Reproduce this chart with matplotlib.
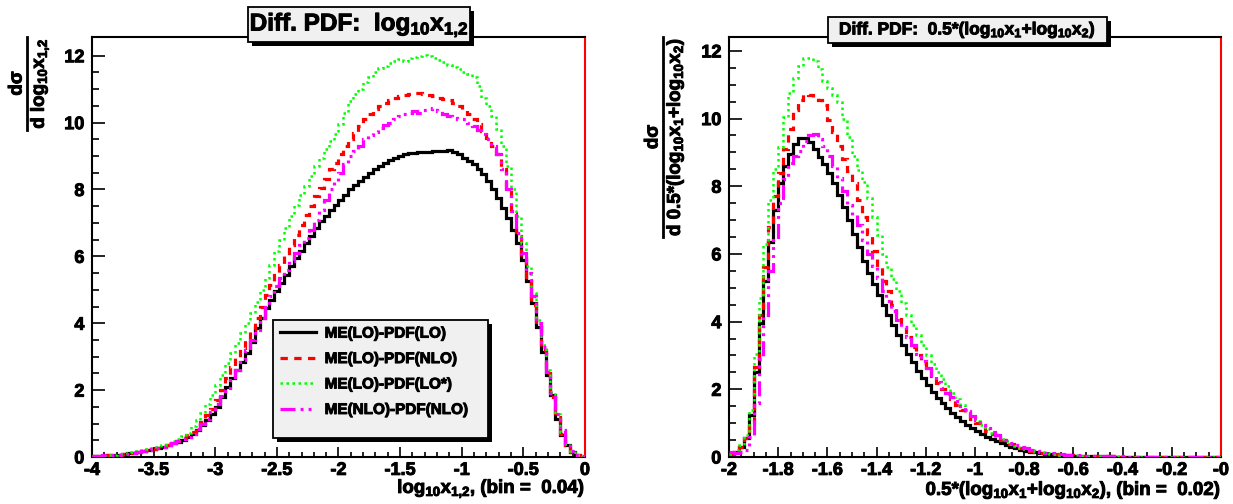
import numpy as np
import matplotlib
matplotlib.use('Agg')
import matplotlib.pyplot as plt
from matplotlib.patches import Rectangle
from matplotlib.lines import Line2D
import matplotlib.patheffects as pe

plt.rcParams['font.family'] = ['Liberation Sans', 'DejaVu Sans']
plt.rcParams['font.weight'] = 'bold'
plt.rcParams['mathtext.fontset'] = 'custom'
plt.rcParams['mathtext.rm'] = 'Liberation Sans:bold'
plt.rcParams['mathtext.bf'] = 'Liberation Sans:bold'
plt.rcParams['mathtext.it'] = 'Liberation Sans:bold'
plt.rcParams['mathtext.default'] = 'regular'

W, H = 1233, 504
HEAVY = [pe.withStroke(linewidth=0.7, foreground='black')]

# ---------------- data ----------------
left_range = (-4.0, 0.0)
left_nbins = 100
right_range = (-2.0, 0.0)
right_nbins = 100

series_labels = ['ME(LO)-PDF(LO)', 'ME(LO)-PDF(NLO)', 'ME(LO)-PDF(LO*)', 'ME(NLO)-PDF(NLO)']

left_lo_lo = [
    0.02, 0.03, 0.04, 0.05, 0.06, 0.07, 0.09, 0.11, 0.13, 0.15,
    0.17, 0.20, 0.23, 0.27, 0.31, 0.36, 0.41, 0.46, 0.52, 0.60,
    0.70, 0.82, 0.97, 1.12, 1.30, 1.50, 1.80, 2.10, 2.35, 2.60,
    2.85, 3.10, 3.45, 3.85, 4.15, 4.45, 4.70, 4.95, 5.20, 5.45,
    5.70, 5.95, 6.15, 6.40, 6.60, 6.85, 7.05, 7.20, 7.40, 7.55,
    7.70, 7.85, 8.00, 8.12, 8.25, 8.38, 8.50, 8.60, 8.70, 8.80,
    8.88, 8.95, 9.00, 9.05, 9.08, 9.10, 9.12, 9.12, 9.13, 9.14,
    9.14, 9.16, 9.17, 9.12, 9.05, 8.95, 8.85, 8.75, 8.60, 8.45,
    8.25, 8.00, 7.75, 7.45, 7.15, 6.80, 6.40, 5.90, 5.25, 4.60,
    3.90, 3.15, 2.45, 1.85, 1.15, 0.65, 0.35, 0.15, 0.05, 0.01]
left_lo_nlo = [
    0.02, 0.03, 0.04, 0.05, 0.06, 0.07, 0.09, 0.11, 0.13, 0.15,
    0.17, 0.20, 0.24, 0.28, 0.32, 0.37, 0.43, 0.49, 0.56, 0.65,
    0.76, 0.90, 1.06, 1.25, 1.45, 1.70, 2.00, 2.35, 2.70, 3.00,
    3.25, 3.50, 3.80, 4.15, 4.50, 4.85, 5.15, 5.45, 5.75, 6.05,
    6.35, 6.65, 6.95, 7.25, 7.50, 7.80, 8.05, 8.30, 8.60, 8.80,
    9.05, 9.30, 9.50, 9.70, 9.90, 10.10, 10.25, 10.40, 10.50, 10.60,
    10.68, 10.75, 10.80, 10.82, 10.85, 10.90, 10.88, 10.85, 10.82, 10.80,
    10.75, 10.70, 10.67, 10.60, 10.50, 10.38, 10.25, 10.10, 9.95, 9.75,
    9.55, 9.30, 9.05, 8.60, 8.00, 7.30, 6.60, 5.95, 5.30, 4.55,
    3.90, 3.20, 2.50, 1.80, 1.20, 0.70, 0.35, 0.15, 0.05, 0.01]
left_lo_los = [
    0.02, 0.03, 0.04, 0.05, 0.06, 0.08, 0.10, 0.12, 0.14, 0.17,
    0.20, 0.23, 0.27, 0.31, 0.36, 0.42, 0.48, 0.55, 0.63, 0.72,
    0.92, 1.10, 1.32, 1.58, 1.85, 2.15, 2.45, 2.80, 3.10, 3.40,
    3.70, 4.00, 4.30, 4.65, 5.00, 5.35, 5.75, 6.15, 6.50, 6.85,
    7.20, 7.55, 7.85, 8.10, 8.40, 8.70, 8.95, 9.20, 9.45, 9.65,
    9.95, 10.30, 10.65, 10.85, 11.00, 11.20, 11.35, 11.50, 11.62, 11.70,
    11.78, 11.85, 11.90, 11.85, 11.92, 11.95, 12.00, 12.03, 11.98, 11.92,
    11.86, 11.80, 11.72, 11.65, 11.60, 11.52, 11.45, 11.35, 11.10, 10.75,
    10.50, 10.20, 9.80, 9.30, 8.70, 8.00, 7.20, 6.40, 5.70, 4.90,
    4.10, 3.35, 2.60, 1.95, 1.30, 0.75, 0.40, 0.17, 0.06, 0.01]
left_nlo_nlo = [
    0.03, 0.03, 0.05, 0.05, 0.06, 0.07, 0.09, 0.10, 0.13, 0.15,
    0.17, 0.20, 0.23, 0.27, 0.31, 0.36, 0.41, 0.47, 0.53, 0.60,
    0.70, 0.83, 0.98, 1.15, 1.35, 1.58, 1.82, 2.05, 2.30, 2.60,
    2.90, 3.20, 3.50, 3.80, 4.15, 4.50, 4.80, 5.10, 5.35, 5.60,
    5.85, 6.10, 6.35, 6.55, 6.80, 7.10, 7.40, 7.70, 8.00, 8.25,
    8.50, 8.75, 9.00, 9.15, 9.30, 9.50, 9.62, 9.72, 9.85, 9.92,
    10.00, 10.10, 10.20, 10.25, 10.30, 10.35, 10.30, 10.38, 10.42, 10.45,
    10.35, 10.25, 10.20, 10.15, 10.12, 10.10, 10.00, 9.90, 9.78, 9.65,
    9.50, 9.30, 9.05, 8.60, 8.00, 7.35, 6.70, 6.10, 5.50, 4.80,
    4.00, 3.30, 2.55, 1.90, 1.30, 0.80, 0.40, 0.18, 0.07, 0.02]

right_lo_lo = [
    0.08, 0.15, 0.30, 0.55, 1.25, 2.50, 3.95, 5.20, 6.35, 7.30,
    8.10, 8.60, 8.95, 9.25, 9.42, 9.42, 9.30, 9.10, 8.85, 8.65,
    8.40, 8.10, 7.75, 7.40, 7.00, 6.60, 6.20, 5.80, 5.45, 5.10,
    4.80, 4.50, 4.20, 3.90, 3.60, 3.30, 3.05, 2.80, 2.55, 2.32,
    2.12, 1.92, 1.75, 1.60, 1.45, 1.31, 1.18, 1.06, 0.95, 0.85,
    0.76, 0.67, 0.59, 0.52, 0.46, 0.40, 0.35, 0.30, 0.26, 0.22,
    0.19, 0.16, 0.14, 0.12, 0.10, 0.085, 0.07, 0.06, 0.05, 0.045,
    0.04, 0.035, 0.03, 0.025, 0.02, 0.02, 0.015, 0.015, 0.012, 0.01,
    0.01, 0.01, 0.008, 0.008, 0.007, 0.006, 0.005, 0.005, 0.004, 0.004,
    0.003, 0.003, 0.003, 0.002, 0.002, 0.002, 0.001, 0.001, 0.001, 0.001]
right_lo_nlo = [
    0.10, 0.15, 0.30, 0.55, 1.00, 2.66, 4.20, 5.60, 6.80, 7.70,
    8.40, 9.10, 9.70, 10.25, 10.55, 10.74, 10.70, 10.60, 10.55, 10.40,
    9.95, 9.60, 9.20, 8.80, 8.45, 8.10, 7.60, 7.10, 6.60, 6.10,
    5.60, 5.20, 4.90, 4.50, 4.15, 3.85, 3.55, 3.25, 3.00, 2.78,
    2.57, 2.38, 2.20, 2.02, 1.85, 1.70, 1.55, 1.40, 1.26, 1.12,
    0.99, 0.88, 0.77, 0.68, 0.59, 0.51, 0.44, 0.38, 0.32, 0.27,
    0.23, 0.19, 0.16, 0.13, 0.11, 0.09, 0.075, 0.065, 0.055, 0.045,
    0.04, 0.035, 0.03, 0.025, 0.02, 0.02, 0.015, 0.015, 0.012, 0.01,
    0.01, 0.01, 0.009, 0.008, 0.007, 0.006, 0.006, 0.005, 0.004, 0.004,
    0.003, 0.003, 0.003, 0.002, 0.002, 0.002, 0.001, 0.001, 0.001, 0.001]
right_lo_los = [
    0.10, 0.20, 0.35, 0.65, 1.40, 3.05, 4.70, 6.30, 7.60, 8.50,
    9.15, 10.05, 10.75, 11.20, 11.55, 11.80, 11.78, 11.70, 11.45, 11.10,
    10.90, 10.70, 10.50, 10.00, 9.46, 8.90, 8.47, 8.13, 7.64, 7.10,
    6.55, 6.00, 5.60, 5.25, 4.90, 4.55, 4.20, 3.90, 3.60, 3.30,
    3.00, 2.75, 2.52, 2.30, 2.10, 1.90, 1.72, 1.55, 1.38, 1.22,
    1.07, 0.95, 0.83, 0.72, 0.62, 0.54, 0.46, 0.39, 0.33, 0.28,
    0.24, 0.20, 0.17, 0.14, 0.12, 0.10, 0.085, 0.07, 0.06, 0.05,
    0.045, 0.04, 0.035, 0.03, 0.025, 0.02, 0.02, 0.015, 0.015, 0.012,
    0.01, 0.01, 0.009, 0.008, 0.007, 0.006, 0.006, 0.005, 0.004, 0.004,
    0.003, 0.003, 0.003, 0.002, 0.002, 0.002, 0.001, 0.001, 0.001, 0.001]
right_nlo_nlo = [
    0.15, 0.12, 0.15, 0.20, 0.60, 1.60, 2.90, 4.20, 5.50, 6.40,
    7.50, 8.20, 8.70, 8.90, 9.05, 9.35, 9.50, 9.55, 9.40, 9.20,
    8.90, 8.60, 8.25, 7.85, 7.45, 7.15, 6.85, 6.40, 6.00, 5.65,
    5.30, 4.90, 4.60, 4.30, 4.05, 3.85, 3.55, 3.30, 3.05, 2.85,
    2.62, 2.42, 2.22, 2.05, 1.90, 1.78, 1.64, 1.50, 1.36, 1.22,
    1.08, 0.96, 0.85, 0.75, 0.66, 0.57, 0.49, 0.42, 0.36, 0.30,
    0.26, 0.22, 0.18, 0.15, 0.13, 0.11, 0.09, 0.08, 0.07, 0.06,
    0.05, 0.045, 0.04, 0.035, 0.03, 0.025, 0.02, 0.02, 0.018, 0.015,
    0.012, 0.012, 0.01, 0.009, 0.008, 0.007, 0.006, 0.005, 0.005, 0.004,
    0.004, 0.003, 0.003, 0.003, 0.002, 0.002, 0.002, 0.001, 0.001, 0.001]

left_xticks = [-4, -3.5, -3, -2.5, -2, -1.5, -1, -0.5, 0]
left_xticklabels = ['-4', '-3.5', '-3', '-2.5', '-2', '-1.5', '-1', '-0.5', '0']
right_xticks = [-2, -1.8, -1.6, -1.4, -1.2, -1, -0.8, -0.6, -0.4, -0.2, 0]
right_xticklabels = ['-2', '-1.8', '-1.6', '-1.4', '-1.2', '-1', '-0.8', '-0.6', '-0.4', '-0.2', '-0']
yticks = [0, 2, 4, 6, 8, 10, 12]
yticklabels = ['0', '2', '4', '6', '8', '10', '12']

# ---------------- styles ----------------
styles = [
    dict(color='black', lw=2.3, ls='-', zorder=3),
    dict(color='#ff0000', lw=2.3, ls=(0, (2.3, 2.0)), zorder=4),
    dict(color='#00ff00', lw=1.8, ls=(0, (1.0, 1.4)), zorder=5),
    dict(color='#ff00ff', lw=2.3, ls=(0, (4.7, 1.6, 0.9, 1.6, 0.9, 1.6, 0.9, 1.6)), zorder=6),
]

fig = plt.figure(figsize=(W / 100, H / 100), dpi=100, facecolor='white')


def px_axes(x0, y0, x1, y1):
    return fig.add_axes([x0 / W, 1 - y1 / H, (x1 - x0) / W, (y1 - y0) / H])


def style_axes(ax, xlim, ylim, xticks, xlabels, xminor):
    ax.set_xlim(*xlim)
    ax.set_ylim(*ylim)
    ax.set_xticks(xticks)
    ax.set_xticklabels(xlabels)
    ax.set_yticks(yticks)
    ax.set_yticklabels(yticklabels)
    ax.set_xticks(np.arange(xlim[0], xlim[1] + 1e-9, xminor), minor=True)
    ax.set_yticks(np.arange(0, 12.5, 0.5), minor=True)
    ax.tick_params(axis='both', which='both', direction='in', top=False, right=False,
                   labelsize=13, width=1.2, colors='black')
    ax.tick_params(axis='y', which='major', length=9.5, pad=5.5)
    ax.tick_params(axis='y', which='minor', length=4.8)
    ax.tick_params(axis='x', which='major', length=7.5, pad=3.5)
    ax.tick_params(axis='x', which='minor', length=3.8)
    for lab in ax.get_xticklabels() + ax.get_yticklabels():
        lab.set_fontweight('bold')
        lab.set_path_effects(HEAVY)
    for s in ['left', 'top', 'bottom']:
        ax.spines[s].set_color('black')
        ax.spines[s].set_linewidth(1.5)
    ax.spines['right'].set_color('#ff0000')
    ax.spines['right'].set_linewidth(1.5)
    ax.axhline(0, color='#ff0000', lw=1.3, zorder=2)


axL = px_axes(92, 37, 585, 457)
axR = px_axes(729, 37, 1221, 457)

style_axes(axL, left_range, (0, 12.56), left_xticks, left_xticklabels, 0.1)
style_axes(axR, right_range, (0, 12.41), right_xticks, right_xticklabels, 0.05)

left_edges = np.linspace(left_range[0], left_range[1], left_nbins + 1)
right_edges = np.linspace(right_range[0], right_range[1], right_nbins + 1)

for vals, st in zip([left_lo_lo, left_lo_nlo, left_lo_los, left_nlo_nlo], styles):
    axL.stairs(vals, left_edges, baseline=None, color=st['color'], lw=st['lw'],
               linestyle=st['ls'], zorder=st['zorder'])
for vals, st in zip([right_lo_lo, right_lo_nlo, right_lo_los, right_nlo_nlo], styles):
    axR.stairs(vals, right_edges, baseline=None, color=st['color'], lw=st['lw'],
               linestyle=st['ls'], zorder=st['zorder'])

# x-axis titles
axL.text(1.0, (457 - 493) / 420, r'log$_{10}$x$_{1{,}2}$, (bin =  0.04)', transform=axL.transAxes,
         ha='right', va='baseline', fontsize=13.5, fontweight='bold', path_effects=HEAVY)
axR.text(1.0, (457 - 495) / 420, r'0.5*(log$_{10}$x$_{1}$+log$_{10}$x$_{2}$), (bin =  0.02)',
         transform=axR.transAxes, ha='right', va='baseline', fontsize=13.5, fontweight='bold',
         path_effects=HEAVY)


# boxes with shadows (figure pixel coords)
def shadow_box(x0, y0, x1, y1, off=4, z=10):
    fig.add_artist(Rectangle(((x0 + off) / W, 1 - (y1 + off) / H), (x1 - x0) / W, (y1 - y0) / H,
                             transform=fig.transFigure, fc='black', ec='none', zorder=z))
    fig.add_artist(Rectangle((x0 / W, 1 - y1 / H), (x1 - x0) / W, (y1 - y0) / H,
                             transform=fig.transFigure, fc='#f0f0f0', ec='black', lw=1.3, zorder=z + 1))


shadow_box(248, 7, 470, 42)
fig.text((248 + 470) / 2 / W, 1 - 25 / H, r'Diff. PDF:  log$_{10}$x$_{1{,}2}$', ha='center', va='center',
         fontsize=17.5, fontweight='bold', zorder=12, path_effects=HEAVY)
shadow_box(828, 17, 1107, 43)
fig.text((828 + 1107) / 2 / W, 1 - 30 / H, r'Diff. PDF:  0.5*(log$_{10}$x$_{1}$+log$_{10}$x$_{2}$)',
         ha='center', va='center', fontsize=12.5, fontweight='bold', zorder=12, path_effects=HEAVY)

# legend
shadow_box(273, 320, 488, 438)
handles = [Line2D([0], [0], color=st['color'], lw=st['lw'], ls=st['ls']) for st in styles]
leg = fig.legend(handles, series_labels, loc='upper left', bbox_to_anchor=(275 / W, 1 - 322 / H),
                 bbox_transform=fig.transFigure, frameon=False, borderaxespad=0, borderpad=0.3,
                 handlelength=2.4, handletextpad=0.55, labelspacing=0.75,
                 prop=dict(family='Liberation Sans', weight='bold', size=11))
leg.set_zorder(13)
for t in leg.get_texts():
    t.set_path_effects(HEAVY)


# y-axis fraction labels
def frac_label(xnum, xbar, xden, ytop, ybot, den, fs=13.5):
    yc = (ytop + ybot) / 2
    fig.text(xnum / W, 1 - yc / H, 'dσ', rotation=90, ha='center', va='center', fontsize=fs,
             fontweight='bold', path_effects=HEAVY)
    fig.add_artist(Line2D([xbar / W, xbar / W], [1 - ytop / H, 1 - ybot / H], transform=fig.transFigure,
                          color='black', lw=2.0))
    fig.text(xden / W, 1 - yc / H, den, rotation=90, ha='left', va='center', fontsize=fs,
             fontweight='bold', path_effects=HEAVY)


frac_label(17, 27, 29, 37, 130, r'd log$_{10}$x$_{1{,}2}$')
frac_label(653, 663, 665, 37, 237, r'd 0.5*(log$_{10}$x$_{1}$+log$_{10}$x$_{2}$)')

fig.savefig('out.png', dpi=100, facecolor='white')
